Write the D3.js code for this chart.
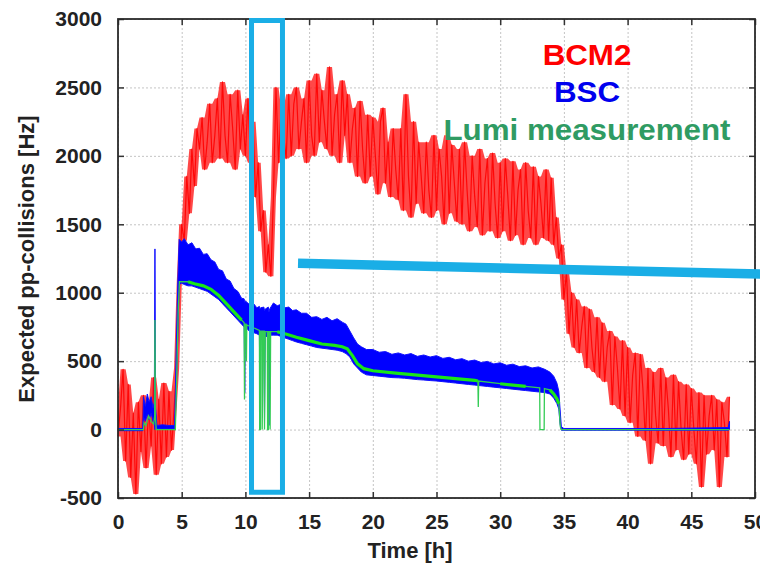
<!DOCTYPE html>
<html>
<head>
<meta charset="utf-8">
<script src="https://cdn.jsdelivr.net/npm/d3@7"></script>
<style>
    body { margin: 0; background: #fff; }
    svg { display: block; background: #fff; }
    .grid line { stroke: #c4c4c4; stroke-dasharray: 2,2; }
    .tickAxis text { font-family: "Liberation Sans", Arial, sans-serif; font-weight: bold; font-size: 21px; fill: #222; }
    .tickAxis line { stroke: #333; stroke-width: 1.5; }
    .axisLabel { font-family: "Liberation Sans", Arial, sans-serif; font-weight: bold; font-size: 22px; fill: #222; }
    .legendLabel { font-family: "Liberation Sans", Arial, sans-serif; font-weight: bold; font-size: 29px; }
</style>
</head>
<body>
<svg id="chart" width="760" height="569"></svg>
<script>
//////////////////// DATA ////////////////////
// axis ticks
const xTicks = [0, 5, 10, 15, 20, 25, 30, 35, 40, 45, 50];
const yTicks = [-500, 0, 500, 1000, 1500, 2000, 2500, 3000];

// legend
const legendLabels = ["BCM2", "BSC", "Lumi measurement"];
const legendColors = ["#ff0000", "#0000ee", "#2f9b63"];

// BCM2 rate, one reading every 0.2 h from 0 h to 48 h
const bcm2Step = 0.2;
const bcm2Values = [
    -50, 160, 440, -230, 330, -350, 120, -470, 200, -160,
    250, -280, 180, -120, 380, -330, 220, -250, 340, -200,
    280, -150, 150, 450, 1050, 1500, 1380, 1850, 1580, 2050,
    1780, 2200, 2050, 2280, 1900, 2100, 2380, 1950, 2150, 2420,
    1980, 2540, 2150, 1950, 2450, 2200, 1900, 2480, 2050, 2300,
    2000, 2420, 1950, 2250, 1700, 1950, 1450, 1600, 1150, 1350,
    1120, 1700, 2500, 1950, 2350, 2150, 1980, 2450, 2000, 2380,
    2500, 2050, 2250, 2420, 1950, 2550, 2150, 2000, 2600, 2100,
    2480, 2250, 2050, 2650, 2000, 2300, 2450, 1950, 2550, 2150,
    2450, 1950, 2200, 2350, 1850, 2400, 2050, 1800, 2300, 1850,
    2280, 2000, 1720, 2250, 2350, 1800, 2100, 1700, 2200, 1900,
    1680, 2200, 1600, 2450, 1850, 1550, 2250, 1650, 2100, 1850,
    1580, 2100, 1750, 1550, 2150, 1600, 2050, 1850, 1500, 2150,
    1580, 2080, 1800, 1520, 2050, 1500, 2100, 1750, 1450, 2000,
    1700, 1480, 2050, 1420, 1800, 1980, 1450, 2020, 1650, 1400,
    1950, 1450, 1980, 1700, 1380, 1960, 1420, 1750, 1900, 1350,
    1950, 1600, 1400, 1920, 1350, 1850, 1650, 1400, 1900, 1380,
    1840, 1350, 1550, 1250, 1350, 950, 1150, 700, 1000, 600,
    950, 560, 750, 900, 450, 880, 600, 420, 820, 380,
    780, 350, 600, 720, 180, 680, 450, 150, 650, 100,
    600, 50, 400, 560, -50, 550, 300, -80, 450, -250,
    420, 100, -100, 450, -120, 380, 150, -200, 400, -150,
    350, 0, -220, 330, -180, 300, 0, -250, 270, -420,
    250, -180, 100, 250, -150, 220, -420, 200, 50, -200,
    240
];

// BSC band: time, lower and upper edge
const bscTimes = [
    0, 1.95, 2.0, 2.15, 2.3, 2.45, 2.6, 2.75, 2.85, 2.9, 2.95, 3.05, 3.5, 4.0, 4.45, 4.55, 4.7,
    4.8, 5.0, 5.2, 5.5, 5.8, 6.1, 6.4, 6.7, 7.0, 7.3, 7.6, 7.9, 8.2, 8.5, 8.8, 9.1, 9.4, 9.7,
    9.9, 9.95, 10.0, 10.3, 10.6, 10.9, 11.1, 11.15, 11.2, 11.45, 11.5, 11.55, 11.8, 11.85, 11.9,
    12.2, 12.5, 12.8, 13.1, 13.4, 13.7, 14.0, 14.4, 14.8, 15.2, 15.6, 16.0, 16.4, 16.8, 17.2, 17.6,
    17.9, 18.2, 18.5, 18.8, 19.1, 19.5, 20.0, 20.5, 21.0, 21.5, 22.0, 22.5, 23.0, 23.5, 24.0, 24.5,
    25.0, 25.5, 26.0, 26.5, 27.0, 27.5, 28.0, 28.5, 29.0, 29.5, 30.0, 30.5, 31.0, 31.5, 32.0, 32.5,
    33.0, 33.5, 33.9, 34.2, 34.45, 34.6, 34.7, 34.8, 35.0, 43.0, 47.9, 48.0
];
const bscLow = [
    -8, -8, 90, 60, 110, 70, 120, 60, 40, 0, 40, 5, 5, 5, 5, 200, 700,
    1060, 1070, 1060, 1050, 1050, 1040, 1030, 1020, 1010, 990, 970, 950, 920, 890, 860, 830, 800, 770,
    750, 270, 750, 720, 710, 700, 690, 60, 690, 680, 40, 680, 680, 30, 690,
    690, 690, 680, 670, 660, 650, 640, 630, 620, 610, 600, 595, 590, 585, 580, 570,
    555, 530, 480, 450, 420, 400, 395, 390, 385, 380, 378, 375, 370, 365, 362, 358,
    355, 350, 345, 340, 335, 330, 325, 320, 315, 310, 305, 300, 295, 290, 285, 280,
    275, 270, 260, 230, 190, 150, 40, -5, -5, -5, -5, 0
];
const bscHigh = [
    8, 8, 240, 170, 260, 200, 240, 160, 200, 1320, 160, 30, 35, 30, 30, 500, 1100,
    1390, 1370, 1395, 1350, 1365, 1320, 1325, 1280, 1285, 1240, 1225, 1170, 1160, 1100, 1085, 1030, 1010, 960,
    955, 930, 940, 915, 925, 890, 900, 880, 890, 895, 870, 880, 895, 860, 880,
    925, 905, 915, 890, 895, 870, 875, 850, 850, 820, 825, 805, 820, 795, 810, 785,
    770, 720, 670, 625, 605, 585, 585, 565, 570, 550, 560, 545, 555, 535, 545, 530,
    540, 520, 528, 510, 518, 500, 508, 490, 498, 480, 488, 470, 478, 460, 466, 450,
    458, 440, 420, 390, 340, 280, 150, 20, 8, 8, 15, 60
];

// luminosity measurement: time and value
const lumiTimes = [
    0, 2.0, 2.05, 2.2, 2.4, 2.6, 2.8, 2.88, 2.9, 2.93, 3.0, 4.5, 4.6, 4.72, 4.82,
    5.5, 6.0, 6.7, 7.3, 7.9, 8.5, 9.1, 9.7, 9.9, 9.93, 9.96, 10.05, 10.08, 10.11, 10.6,
    11.1, 11.12, 11.18, 11.2, 11.3, 11.32, 11.4, 11.48, 11.5, 11.56, 11.72, 11.74, 11.8, 11.82,
    11.92, 11.94, 11.98, 12.5, 13.1, 14.0, 15.0, 16.0, 17.0, 17.6, 18.0, 18.4, 18.8, 19.3,
    20.0, 22.0, 25.0, 28.0, 28.25, 28.28, 28.31, 30.0, 32.0, 33.1, 33.12, 33.45, 33.47,
    33.9, 34.2, 34.45, 34.6, 34.72, 34.8, 48.0
];
const lumiValues = [
    0, 0, 50, 30, 100, 60, 40, 100, 800, 100, 0, 0, 350, 850, 1080,
    1080, 1065, 1050, 1025, 980, 920, 860, 800, 780, 220, 770, 770, 500, 765, 745,
    725, 0, 0, 720, 720, 0, 720, 720, 0, 715, 715, 0, 0, 715,
    715, 0, 715, 715, 700, 675, 650, 625, 615, 605, 590, 540, 480, 445,
    430, 410, 385, 360, 355, 165, 355, 335, 315, 305, 0, 0, 300,
    290, 260, 225, 190, 20, 0, 0
];

// annotation drawn on the original: box [t0, t1, vLow, vHigh] and line [[t, v], [t, v]]
const highlightBox = [10.48, 12.91, -458, 2989];
const highlightLine = [[14.13, 1216], [50.4, 1136]];


//////////////////// SIZES ////////////////////
const plot = {
    left: 118,
    right: 755,
    top: 19,
    bottom: 498
};

const svg = d3.select("#chart");


//////////////////// SCALES ////////////////////
const xScale = d3.scaleLinear()
    .domain([0, 50])
    .range([plot.left, plot.right]);

const yScale = d3.scaleLinear()
    .domain([-500, 3000])
    .range([plot.bottom, plot.top]);


//////////////////// GRID ////////////////////
svg.append("g")
    .attr("class", "grid")
    .attr("transform", `translate(0, ${plot.bottom})`)
    .call(d3.axisBottom(xScale).tickValues(xTicks).tickSize(-(plot.bottom - plot.top)).tickFormat(""))
    .call(g => g.select(".domain").remove());

svg.append("g")
    .attr("class", "grid")
    .attr("transform", `translate(${plot.left}, 0)`)
    .call(d3.axisLeft(yScale).tickValues(yTicks).tickSize(-(plot.right - plot.left)).tickFormat(""))
    .call(g => g.select(".domain").remove());


//////////////////// SERIES ////////////////////
// BCM2 (red, noisy): filled between neighbouring readings, then the trace itself
const bcm2Points = bcm2Values.map((v, i) => ({ t: i * bcm2Step, v: v }));
const bcm2Near = i => bcm2Points.slice(Math.max(i - 1, 0), i + 2);

svg.append("path")
    .datum(bcm2Points)
    .attr("fill", "#ff1a1a")
    .attr("fill-opacity", 0.8)
    .attr("d", d3.area()
        .x(d => xScale(d.t))
        .y0((d, i) => yScale(d3.min(bcm2Near(i), p => p.v)))
        .y1((d, i) => yScale(d3.max(bcm2Near(i), p => p.v))));

svg.append("path")
    .datum(bcm2Points)
    .attr("fill", "none")
    .attr("stroke", "#ff0000")
    .attr("stroke-width", 1.2)
    .attr("stroke-opacity", 0.9)
    .attr("stroke-linejoin", "round")
    .attr("d", d3.line().x(d => xScale(d.t)).y(d => yScale(d.v)));

// BSC (blue band)
const bscPoints = bscTimes.map((t, i) => ({ t: t, lo: bscLow[i], hi: bscHigh[i] }));
svg.append("path")
    .datum(bscPoints)
    .attr("fill", "#0000ff")
    .attr("stroke", "#1010ff")
    .attr("stroke-width", 1)
    .attr("stroke-linejoin", "round")
    .attr("d", d3.area().x(d => xScale(d.t)).y0(d => yScale(d.lo)).y1(d => yScale(d.hi)));

// lumi measurement (green), thin everywhere
const lumiPoints = lumiTimes.map((t, i) => ({ t: t, v: lumiValues[i] }));
const lumiLine = d3.line().x(d => xScale(d.t)).y(d => yScale(d.v));
svg.append("path")
    .datum(lumiPoints)
    .attr("fill", "none")
    .attr("stroke", "#33cc55")
    .attr("stroke-width", 1.3)
    .attr("d", lumiLine);

// thicker trace where the measurement runs (skip dropouts)
svg.append("path")
    .datum(lumiPoints)
    .attr("fill", "none")
    .attr("stroke", "#19e619")
    .attr("stroke-width", 3.2)
    .attr("d", lumiLine.defined((d, i) => {
        const prev = lumiPoints[Math.max(i - 1, 0)];
        const next = lumiPoints[Math.min(i + 1, lumiPoints.length - 1)];
        return d.t >= 4.8 && d.t <= 34.6 && Math.abs(d.v - (prev.v + next.v) / 2) < 100;
    }));


//////////////////// FRAME AND TICKS ////////////////////
svg.append("g")
    .attr("class", "tickAxis")
    .attr("transform", `translate(0, ${plot.bottom})`)
    .call(d3.axisBottom(xScale).tickValues(xTicks).tickSize(-6).tickPadding(16).tickFormat(d => d));

svg.append("g")
    .attr("class", "tickAxis")
    .attr("transform", `translate(${plot.left}, 0)`)
    .call(d3.axisLeft(yScale).tickValues(yTicks).tickSize(-6).tickPadding(16).tickFormat(d => d));

svg.append("g")
    .attr("class", "tickAxis")
    .attr("transform", `translate(0, ${plot.top})`)
    .call(d3.axisTop(xScale).tickValues(xTicks).tickSize(-6).tickFormat(""));

svg.append("g")
    .attr("class", "tickAxis")
    .attr("transform", `translate(${plot.right}, 0)`)
    .call(d3.axisRight(yScale).tickValues(yTicks).tickSize(-6).tickFormat(""));

svg.selectAll(".tickAxis .domain").remove();

svg.append("rect")
    .attr("x", plot.left)
    .attr("y", plot.top)
    .attr("width", plot.right - plot.left)
    .attr("height", plot.bottom - plot.top)
    .attr("fill", "none")
    .attr("stroke", "#2a2a2a")
    .attr("stroke-width", 1.8);


//////////////////// AXIS TEXT ////////////////////
svg.append("text")
    .attr("class", "axisLabel")
    .attr("x", 410)
    .attr("y", 558)
    .attr("text-anchor", "middle")
    .text("Time [h]");

svg.append("text")
    .attr("class", "axisLabel")
    .attr("transform", "translate(34, 259) rotate(-90)")
    .attr("text-anchor", "middle")
    .text("Expected pp-collisions [Hz]");


//////////////////// LEGEND ////////////////////
// the legend lettering is slightly wide in the original
const legendBaselines = [65, 102, 140];
svg.selectAll(".legendLabel")
    .data(legendLabels)
    .enter()
    .append("text")
    .attr("class", "legendLabel")
    .attr("transform", (d, i) => `translate(587, ${legendBaselines[i]}) scale(1.08, 1)`)
    .attr("text-anchor", "middle")
    .attr("fill", (d, i) => legendColors[i])
    .text(d => d);


//////////////////// ANNOTATIONS ////////////////////
// cyan box around the dip
svg.append("rect")
    .attr("x", xScale(highlightBox[0]))
    .attr("y", yScale(highlightBox[3]))
    .attr("width", xScale(highlightBox[1]) - xScale(highlightBox[0]))
    .attr("height", yScale(highlightBox[2]) - yScale(highlightBox[3]))
    .attr("fill", "none")
    .attr("stroke", "#1aaee6")
    .attr("stroke-width", 5);

// cyan line
svg.append("line")
    .attr("x1", xScale(highlightLine[0][0]))
    .attr("y1", yScale(highlightLine[0][1]))
    .attr("x2", xScale(highlightLine[1][0]))
    .attr("y2", yScale(highlightLine[1][1]))
    .attr("stroke", "#1aaee6")
    .attr("stroke-width", 9.5);
</script>
</body>
</html>
